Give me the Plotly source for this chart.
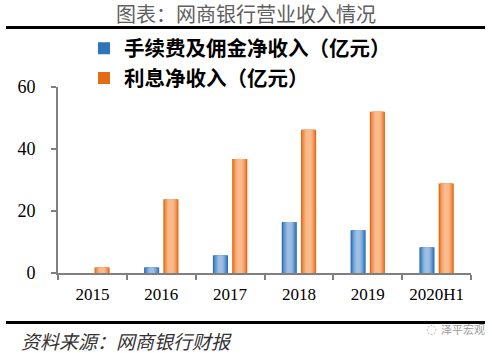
import base64
import struct
import zlib

import plotly.graph_objects as go

categories = ["2015", "2016", "2017", "2018", "2019", "2020H1"]
fee_income = [0.0, 1.8, 5.7, 16.4, 13.8, 8.3]
interest_income = [1.8, 23.8, 36.8, 46.2, 52.0, 28.9]
series_names = ["手续费及佣金净收入（亿元）", "利息净收入（亿元）"]
y_ticks = [0, 20, 40, 60]

W, H = 492, 353
ML, MR, MT, MB = 58, 21, 87, 80
plot_bottom = H - MB
ph = plot_bottom - MT
pw = W - ML - MR


def py(p):
    return (plot_bottom - p) / ph


def px(p):
    return (p - ML) / pw


def black_png():
    def chunk(t, d):
        return struct.pack(">I", len(d)) + t + d + struct.pack(">I", zlib.crc32(t + d) & 0xFFFFFFFF)
    ihdr = struct.pack(">IIBBBBB", 1, 1, 8, 2, 0, 0, 0)
    raw = b"\x00\x00\x00\x00"
    data = b"\x89PNG\r\n\x1a\n" + chunk(b"IHDR", ihdr) + chunk(b"IDAT", zlib.compress(raw)) + chunk(b"IEND", b"")
    return "data:image/png;base64," + base64.b64encode(data).decode()


fig = go.Figure()

BAR_W = 0.22
blue_layers = ["#2F73B8", "#4F8BC8", "#6E9FD3", "#88B0DB", "#9BBEE2"]
orange_layers = ["#E36C14", "#EE8A45", "#F4A066", "#F7B07E", "#F9BB8E"]


def add_series(values, name, center, colors):
    n = len(colors)
    for i, c in enumerate(colors):
        w = BAR_W * (1 - i / n * 0.85)
        fig.add_trace(go.Bar(
            x=categories, y=values, name=name,
            width=w, offset=center - w / 2,
            marker=dict(color=c, line=dict(width=0)),
            showlegend=(i == 0), legendgroup=name, hoverinfo="skip",
        ))


add_series(fee_income, series_names[0], -0.14, blue_layers)
add_series(interest_income, series_names[1], 0.14, orange_layers)

fig.update_layout(
    width=W, height=H,
    margin=dict(l=ML, r=MR, t=MT, b=MB),
    paper_bgcolor="white", plot_bgcolor="white",
    barmode="overlay",
    showlegend=True,
    legend=dict(
        x=px(84), y=py(28.5), xanchor="left", yanchor="top",
        font=dict(family="Noto Sans CJK SC", size=20.5, color="#000", weight="bold"),
        bgcolor="rgba(255,255,255,0)", tracegroupgap=0,
        itemwidth=30,
    ),
    font=dict(family="Liberation Serif", size=17, color="#000"),
)
fig.update_xaxes(
    type="category", showgrid=False,
    showline=True, linecolor="#7F7F7F", linewidth=2,
    ticks="outside", tickson="boundaries", ticklen=5, tickcolor="#7F7F7F", tickwidth=2,
    tickfont=dict(family="Liberation Serif", size=17, color="#000"),
    ticklabelstandoff=5,
    range=[-0.5, 5.5],
)
fig.update_yaxes(
    range=[0, 60], tickvals=y_ticks, showgrid=False, zeroline=False,
    showline=True, linecolor="#7F7F7F", linewidth=2,
    ticks="outside", ticklen=5, tickcolor="#7F7F7F", tickwidth=2,
    tickfont=dict(family="Liberation Serif", size=18, color="#000"),
    ticklabelstandoff=12,
)

for yy in (27.5, 322.5):
    fig.add_shape(type="line", xref="paper", yref="paper", layer="above",
                  x0=px(6), x1=px(485), y0=py(yy), y1=py(yy),
                  line=dict(color="#000000", width=3))

# top rule also as a stretched black image
fig.add_layout_image(
    source=black_png(), xref="paper", yref="paper",
    x=px(6), y=py(26), sizex=px(485) - px(6), sizey=3 / ph,
    xanchor="left", yanchor="top", sizing="stretch", layer="above",
)

fig.add_annotation(
    text="图表：网商银行营业收入情况", x=px(246), y=py(14), xref="paper", yref="paper",
    xanchor="center", yanchor="middle",
    showarrow=False, font=dict(family="Noto Sans CJK SC", size=20, color="#606060"),
)
fig.add_annotation(
    text="<i>资料来源：网商银行财报</i>", xref="paper", yref="paper",
    x=px(19), y=py(340), xanchor="left", yanchor="middle", showarrow=False,
    font=dict(family="Noto Sans CJK SC", size=19, color="#333"),
)
fig.add_annotation(
    text="泽平宏观", xref="paper", yref="paper", x=px(487), y=py(329), xanchor="right",
    yanchor="middle", showarrow=False,
    font=dict(family="Noto Sans CJK SC", size=11, color="#9A9A9A"),
)
fig.add_annotation(
    text="◌", xref="paper", yref="paper", x=px(431), y=py(329), xanchor="center",
    yanchor="middle", showarrow=False,
    font=dict(family="DejaVu Sans", size=12, color="#B0B0B0"),
)

fig.write_html("out.html", config={"displayModeBar": False})
